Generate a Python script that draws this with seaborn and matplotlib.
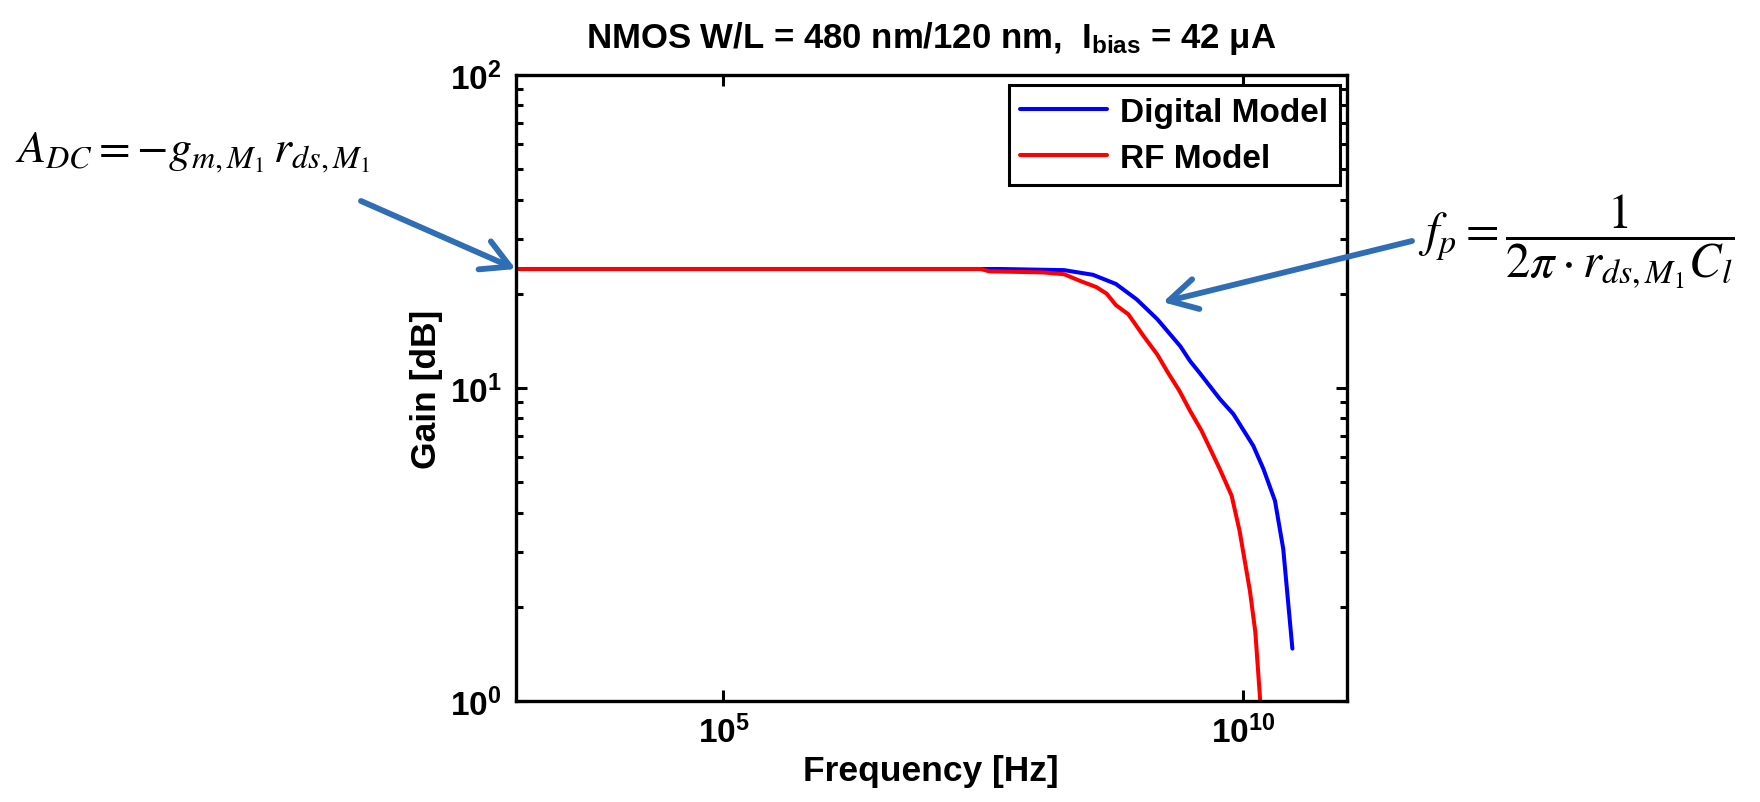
import numpy as np
import pandas as pd
import matplotlib
matplotlib.use("Agg")
import matplotlib.pyplot as plt
import matplotlib.ticker as mticker
import seaborn as sns

# ---------------- data ----------------
digital_freq = [1e3, 1e6, 4.6e7, 1.9e8, 3.6e8, 6.0e8, 9.5e8, 1.5e9, 2.5e9, 3.1e9,
                3.9e9, 6.0e9, 8.1e9, 1.26e10, 1.58e10, 2.04e10, 2.45e10, 3.0e10]
digital_gain = [24.0, 24.0, 24.0, 23.8, 23.0, 21.5, 19.2, 16.6, 13.6, 12.2,
                11.1, 9.23, 8.26, 6.54, 5.51, 4.36, 3.06, 1.47]

rf_freq = [1e3, 1e6, 3.0e7, 3.6e7, 1.2e8, 1.9e8, 2.7e8, 3.9e8, 4.9e8, 6.0e8,
           7.9e8, 1.1e9, 1.5e9, 1.9e9, 2.45e9, 3.1e9, 4.0e9, 6.0e9, 7.8e9,
           9.3e9, 1.17e10, 1.32e10, 1.48e10]
rf_gain = [24.0, 24.0, 24.0, 23.6, 23.4, 23.1, 22.0, 21.0, 20.0, 18.4,
           17.2, 14.7, 12.8, 11.2, 9.8, 8.46, 7.31, 5.51, 4.53,
           3.50, 2.25, 1.66, 0.97]

series_names = ["Digital Model", "RF Model"]
x_ticks = [1e5, 1e10]
x_tick_labels = [r"$\mathbf{10^{5}}$", r"$\mathbf{10^{10}}$"]
y_ticks = [1e0, 1e1, 1e2]
y_tick_labels = [r"$\mathbf{10^{0}}$", r"$\mathbf{10^{1}}$", r"$\mathbf{10^{2}}$"]

title_text = "NMOS W/L = 480 nm/120 nm,  I$_{\\mathbf{bias}}$ = 42 μA"
xlabel_text = "Frequency [Hz]"
ylabel_text = "Gain [dB]"
adc_text = r"$A_{DC} = -g_{m,M_1}\, r_{ds,M_1}$"
fp_text = r"$f_p = \dfrac{1}{2\pi \cdot r_{ds,M_1} C_l}$"

df = pd.concat([
    pd.DataFrame({"freq": digital_freq, "gain": digital_gain, "model": series_names[0]}),
    pd.DataFrame({"freq": rf_freq, "gain": rf_gain, "model": series_names[1]}),
], ignore_index=True)

# ---------------- style ----------------
sns.set_theme(style="white")
plt.rcParams["font.family"] = ["Liberation Sans", "DejaVu Sans"]
plt.rcParams["font.weight"] = "normal"
plt.rcParams["text.color"] = "black"
plt.rcParams["axes.labelcolor"] = "black"
plt.rcParams["xtick.color"] = "black"
plt.rcParams["ytick.color"] = "black"
plt.rcParams["mathtext.fontset"] = "custom"
plt.rcParams["mathtext.rm"] = "Liberation Sans:bold"
plt.rcParams["mathtext.bf"] = "Liberation Sans:bold"
plt.rcParams["mathtext.it"] = "Liberation Sans:bold"

W, H = 1760, 803
fig = plt.figure(figsize=(W / 100, H / 100), dpi=100)
ax_left, ax_right, ax_top, ax_bottom = 515.7, 1346.7, 76, 702
ax = fig.add_axes([ax_left / W, 1 - ax_bottom / H,
                   (ax_right - ax_left) / W, (ax_bottom - ax_top) / H])

sns.lineplot(data=df, x="freq", y="gain", hue="model",
             palette={series_names[0]: "#0000FF", series_names[1]: "#FF0000"},
             estimator=None, sort=False, linewidth=2.9, ax=ax)

ax.set_xscale("log")
ax.set_yscale("log")
ax.set_xlim(1e3, 1e11)
ax.set_ylim(1e0, 1e2)

ax.xaxis.set_major_locator(mticker.FixedLocator(x_ticks))
ax.xaxis.set_major_formatter(mticker.FixedFormatter(x_tick_labels))
ax.xaxis.set_minor_locator(mticker.NullLocator())
ax.yaxis.set_major_locator(mticker.FixedLocator(y_ticks))
ax.yaxis.set_major_formatter(mticker.FixedFormatter(y_tick_labels))
ax.yaxis.set_minor_locator(mticker.LogLocator(base=10, subs=np.arange(2, 10), numticks=20))
ax.yaxis.set_minor_formatter(mticker.NullFormatter())

ax.tick_params(which="both", direction="in", top=True, right=True, bottom=True, left=True,
               colors="black", width=2.2)
ax.tick_params(which="major", length=8, labelsize=24, pad=10)
ax.tick_params(which="minor", length=5)
for s in ax.spines.values():
    s.set_linewidth(2.4)
    s.set_color("black")

ax.set_xlabel(xlabel_text, fontsize=25.5, fontweight="bold", color="black")
ax.set_ylabel(ylabel_text, fontsize=25.5, fontweight="bold", color="black")
ax.xaxis.set_label_coords(0.5, -0.085)
ax.yaxis.set_label_coords(-0.088, 0.5)

ax.set_title(title_text, fontsize=25, fontweight="bold", pad=20, color="black")

leg = ax.legend(loc="upper right", bbox_to_anchor=(0.992, 0.984),
                prop={"size": 24, "weight": "bold", "family": "Liberation Sans"},
                frameon=True, fancybox=False, handlelength=2.6, handletextpad=0.4,
                borderpad=0.35, labelspacing=0.45, borderaxespad=0)
leg.get_frame().set_edgecolor("black")
leg.get_frame().set_linewidth(2.2)
leg.get_frame().set_alpha(1)
for t in leg.get_texts():
    t.set_color("black")

# ---------------- annotations ----------------
arrow_color = "#2F6DB5"
fig.text(15 / W, 1 - 153 / H, adc_text, fontsize=33, math_fontfamily="stix",
         fontweight="normal", ha="left", va="center", color="black")
fig.text(1418 / W, 1 - 242 / H, fp_text, fontsize=35, math_fontfamily="stix",
         fontweight="normal", ha="left", va="center", color="black")

ax.annotate("", xy=(1e3, 24.0), xycoords="data",
            xytext=(361 / W, 1 - 202 / H), textcoords="figure fraction",
            arrowprops=dict(arrowstyle="->,head_length=1.0,head_width=0.55",
                            lw=4.2, color=arrow_color, shrinkA=0, shrinkB=0,
                            mutation_scale=20),
            annotation_clip=False)
ax.annotate("", xy=(1.7e9, 18.8), xycoords="data",
            xytext=(1412 / W, 1 - 242 / H), textcoords="figure fraction",
            arrowprops=dict(arrowstyle="->,head_length=1.0,head_width=0.55",
                            lw=4.2, color=arrow_color, shrinkA=0, shrinkB=0,
                            mutation_scale=20),
            annotation_clip=False)

fig.savefig("out.png", dpi=100, facecolor="white")
